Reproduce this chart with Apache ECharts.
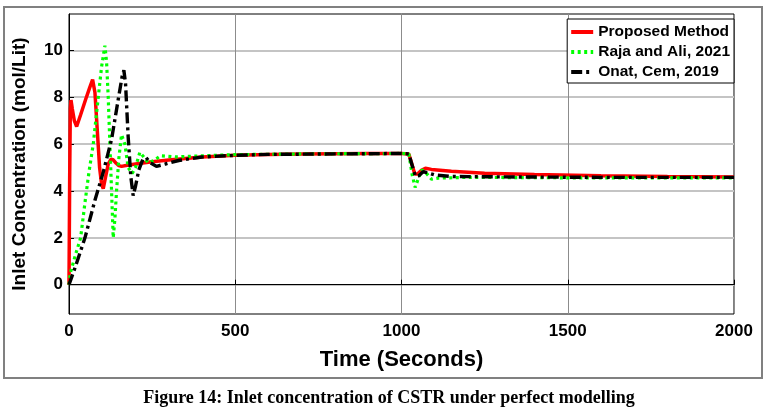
<!DOCTYPE html>
<html style="height: 100%">
<head>
<meta charset="utf-8">
<script src="https://cdn.jsdelivr.net/npm/echarts@6.0.0/dist/echarts.min.js"></script>
</head>
<body style="height: 100%; margin: 0; background: #fff">
<div id="container" style="width: 768px; height: 415px"></div>
<script type="text/javascript">

// Proposed Method (red, solid)
var propTime = [0, 2, 4, 6, 10, 16, 23, 35, 50, 62, 71, 78, 85, 92, 98, 103, 110, 118, 126, 133, 142, 150, 158, 175, 200, 250, 300, 400, 500, 600, 700, 800, 900, 1000, 1022, 1030, 1040, 1048, 1060, 1072, 1090, 1150, 1250, 1400, 1600, 1800, 2000];
var propConc = [0, 4.5, 7.5, 7.88, 7.5, 7.0, 6.75, 7.25, 7.9, 8.4, 8.75, 8.2, 6.6, 5.0, 4.3, 4.1, 4.6, 5.15, 5.35, 5.33, 5.18, 5.08, 5.05, 5.1, 5.15, 5.25, 5.32, 5.45, 5.52, 5.56, 5.58, 5.59, 5.6, 5.6, 5.58, 5.2, 4.72, 4.72, 4.88, 4.97, 4.92, 4.84, 4.76, 4.7, 4.65, 4.62, 4.6];

// Raja and Ali, 2021 (green, dotted)
var rajaTime = [0, 4, 20, 35, 48, 60, 73, 88, 98, 108, 113, 118, 123, 128, 133, 138, 143, 150, 158, 163, 168, 178, 190, 200, 213, 225, 238, 255, 275, 320, 400, 500, 700, 1000, 1022, 1032, 1041, 1050, 1061, 1072, 1090, 1110, 1200, 1500, 2000];
var rajaConc = [0, 0.5, 1.3, 2.0, 3.5, 4.8, 6.0, 8.0, 9.3, 10.2, 9.5, 8.0, 6.0, 4.0, 2.0, 2.8, 4.0, 5.4, 6.4, 6.45, 6.0, 5.0, 4.75, 5.0, 5.65, 5.45, 5.2, 5.3, 5.5, 5.45, 5.5, 5.55, 5.58, 5.6, 5.58, 4.7, 4.15, 4.5, 4.9, 4.8, 4.5, 4.55, 4.58, 4.56, 4.56];

// Onat, Cem, 2019 (black, dash-dot)
var onatTime = [0, 20, 48, 78, 103, 128, 148, 160, 165, 170, 178, 186, 193, 200, 210, 222, 232, 245, 263, 290, 330, 400, 500, 600, 800, 1000, 1022, 1032, 1042, 1052, 1065, 1078, 1100, 1150, 1300, 1600, 2000];
var onatConc = [0, 0.8, 2.0, 3.6, 4.8, 6.2, 7.9, 8.9, 9.15, 8.6, 6.3, 4.6, 3.8, 4.2, 4.9, 5.35, 5.42, 5.2, 5.05, 5.15, 5.3, 5.45, 5.52, 5.56, 5.58, 5.6, 5.58, 5.1, 4.62, 4.65, 4.82, 4.78, 4.68, 4.62, 4.6, 4.58, 4.58];

var xTicks = [0, 500, 1000, 1500, 2000];
var yTicks = [0, 2, 4, 6, 8, 10];

function pairs(t, v) {
  return t.map(function (x, i) { return [x, v[i]]; });
}

var dom = document.getElementById("container");
var myChart = echarts.init(dom, null, {renderer: 'canvas'});
var font = 'Liberation Sans, Arial, sans-serif';

var option = {
  animation: false,
  backgroundColor: '#fff',
  grid: {
    left: 69, right: 34, top: 14, bottom: 101,
    show: true, borderColor: '#000', borderWidth: 1
  },
  legend: {
    orient: 'vertical',
    right: 34, top: 19,
    itemWidth: 22, itemHeight: 16, itemGap: 4,
    padding: [5, 4, 3, 2],
    borderColor: '#000', borderWidth: 1, borderRadius: 0,
    backgroundColor: '#fff',
    itemStyle: {opacity: 0},
    lineStyle: {width: 4},
    textStyle: {fontFamily: font, fontWeight: 'bold', fontSize: 15.5, color: '#000'},
    data: ['Proposed Method', 'Raja and Ali, 2021', 'Onat, Cem, 2019']
  },
  xAxis: {
    type: 'value',
    min: 0, max: 2000, interval: 500,
    name: 'Time (Seconds)',
    nameLocation: 'middle',
    nameGap: 35,
    nameTextStyle: {fontFamily: font, fontWeight: 'bold', fontSize: 22, color: '#000'},
    axisLine: {lineStyle: {color: '#000', width: 1}},
    axisTick: {inside: true, length: 5, lineStyle: {color: '#000'}},
    axisLabel: {fontFamily: font, fontWeight: 'bold', fontSize: 17, color: '#000', margin: 9,
      customValues: xTicks,
      formatter: function (v) { return String(v); }},
    splitLine: {show: true, lineStyle: {color: '#8c8c8c', width: 1}}
  },
  yAxis: {
    type: 'value',
    min: -1.25, max: 11.55,
    name: 'Inlet Concentration (mol/Lit)',
    nameLocation: 'middle',
    nameGap: 40,
    nameTextStyle: {fontFamily: font, fontWeight: 'bold', fontSize: 19, color: '#000'},
    axisLine: {show: true, lineStyle: {color: '#000', width: 1}},
    axisTick: {show: true, inside: true, length: 5, lineStyle: {color: '#000'}, customValues: yTicks},
    axisLabel: {fontFamily: font, fontWeight: 'bold', fontSize: 17, color: '#000', margin: 6,
      customValues: yTicks},
    splitLine: {show: true, lineStyle: {color: '#c4c4c4', width: 2}}
  },
  graphic: [
    {
      type: 'rect',
      shape: {x: 4, y: 7, width: 758, height: 371},
      style: {fill: 'none', stroke: '#808080', lineWidth: 2},
      silent: true, z: -1
    },
    {
      type: 'text',
      x: 389, y: 398,
      style: {
        text: 'Figure 14: Inlet concentration of CSTR under perfect modelling',
        fontFamily: 'Liberation Serif, Times New Roman, serif',
        fontWeight: 'bold', fontSize: 18, fill: '#000',
        align: 'center', verticalAlign: 'middle'
      }
    }
  ],
  series: [
    {
      name: 'Proposed Method',
      type: 'line',
      data: pairs(propTime, propConc),
      showSymbol: false, symbol: 'none',
      lineStyle: {color: '#ff0000', width: 3.5},
      itemStyle: {color: '#ff0000'}
    },
    {
      name: 'Raja and Ali, 2021',
      type: 'line',
      data: pairs(rajaTime, rajaConc),
      showSymbol: false, symbol: 'none',
      lineStyle: {color: '#00ff00', width: 3.2, type: [3, 3.5], cap: 'butt'},
      itemStyle: {color: '#00ff00'}
    },
    {
      name: 'Onat, Cem, 2019',
      type: 'line',
      data: pairs(onatTime, onatConc),
      showSymbol: false, symbol: 'none',
      lineStyle: {color: '#000000', width: 3.4, type: [11, 4, 3, 4], cap: 'butt'},
      itemStyle: {color: '#000000'}
    }
  ]
};

myChart.setOption(option);

</script>
</body>
</html>
